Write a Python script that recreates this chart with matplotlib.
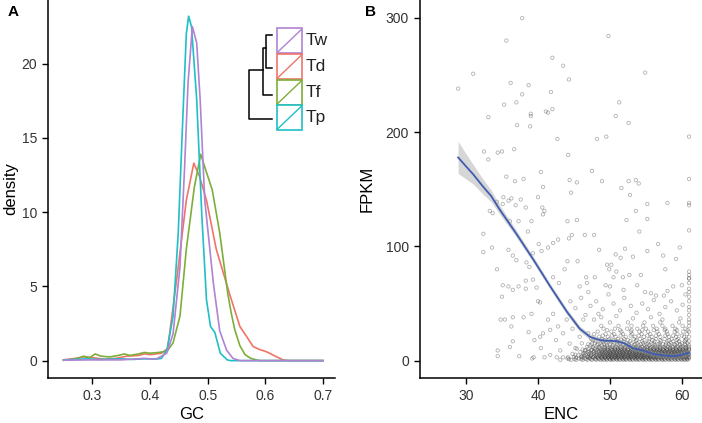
import numpy as np
import matplotlib.pyplot as plt
from matplotlib.patches import Rectangle
from matplotlib.lines import Line2D

plt.rcParams['font.family'] = ['Liberation Sans', 'DejaVu Sans']

# ---- Panel A: GC density per species ----
species = ['Tw', 'Td', 'Tf', 'Tp']
colors = {'Tw': '#B183D3', 'Td': '#F07468', 'Tf': '#7DAE3A', 'Tp': '#1FBFC6'}

gc_td = [0.25, 0.27, 0.285, 0.30, 0.32, 0.34, 0.36, 0.38, 0.39, 0.40, 0.42, 0.43, 0.434, 0.449,
         0.463, 0.476, 0.486, 0.498, 0.515, 0.538, 0.556, 0.568, 0.579, 0.590, 0.602, 0.619, 0.631, 0.64, 0.70]
dens_td = [0.05, 0.15, 0.25, 0.2, 0.1, 0.15, 0.3, 0.35, 0.45, 0.4, 0.5, 0.8, 1.8, 6.3,
           10.8, 13.3, 12.4, 10.8, 7.5, 4.5, 2.3, 1.6, 0.95, 0.75, 0.6, 0.27, 0.05, 0.0, 0.0]

gc_tf = [0.25, 0.27, 0.285, 0.295, 0.305, 0.315, 0.33, 0.345, 0.355, 0.365, 0.38, 0.39, 0.40, 0.415,
         0.43, 0.44, 0.452, 0.463, 0.477, 0.488, 0.497, 0.508, 0.521, 0.535, 0.541, 0.547, 0.556,
         0.565, 0.575, 0.59, 0.70]
dens_tf = [0.02, 0.1, 0.3, 0.2, 0.45, 0.3, 0.25, 0.35, 0.45, 0.35, 0.45, 0.55, 0.5, 0.55,
           0.65, 1.2, 3.0, 7.5, 11.7, 13.9, 12.8, 11.5, 8.6, 4.5, 3.2, 2.1, 1.0,
           0.4, 0.15, 0.0, 0.0]

gc_tp = [0.25, 0.27, 0.29, 0.31, 0.33, 0.35, 0.37, 0.39, 0.41, 0.42, 0.43, 0.44, 0.449, 0.457,
         0.463, 0.467, 0.472, 0.481, 0.490, 0.498, 0.505, 0.5125, 0.522, 0.534, 0.54, 0.70]
dens_tp = [0.05, 0.08, 0.12, 0.08, 0.1, 0.12, 0.08, 0.12, 0.1, 0.15, 0.8, 3.0, 8.6, 16.4,
           22.0, 23.2, 22.5, 17.6, 9.7, 4.1, 2.3, 1.9, 0.5, 0.05, 0.0, 0.0]

gc_tw = [0.25, 0.30, 0.35, 0.39, 0.41, 0.42, 0.429, 0.44, 0.452, 0.460, 0.466, 0.4735, 0.481,
         0.487, 0.495, 0.510, 0.521, 0.533, 0.544, 0.556, 0.70]
dens_tw = [0.03, 0.05, 0.05, 0.15, 0.1, 0.3, 0.5, 1.8, 6.3, 13.0, 18.7, 22.5, 21.4,
           17.6, 10.8, 5.2, 2.0, 0.7, 0.15, 0.0, 0.0]

curves = {'Td': (gc_td, dens_td), 'Tf': (gc_tf, dens_tf), 'Tp': (gc_tp, dens_tp), 'Tw': (gc_tw, dens_tw)}

# ---- Panel B: FPKM vs ENC ----
enc_sparse = [28.9, 31.0, 37.8, 35.6, 49.8, 54.9, 42.0, 43.5, 44.3, 36.2, 38.7, 37.8, 41.8, 35.3, 37.0,
              41.1, 42.0, 41.4, 39.0, 39.0, 51.3, 50.8, 52.6, 33.1, 37.1, 38.9, 42.7, 48.2, 49.5, 61.0,
              32.5, 33.1, 34.4, 35.0, 36.7, 44.2, 47.5, 40.4, 35.6, 40.7, 36.8, 38.0, 48.9, 45.4, 44.4,
              52.6, 53.6, 54.0, 61.0, 51.6, 44.6, 52.8, 35.2, 36.3, 37.6, 40.0, 34.3, 35.1, 36.9, 35.9,
              38.3, 40.6, 40.7, 40.9, 53.6, 55.2, 58.0, 61.0, 61.0, 33.3, 33.7, 36.1, 37.3, 39.1, 44.1,
              45.4, 52.3, 55.2, 32.4, 38.6, 54.1, 61.0, 33.6, 32.4, 44.3, 44.7, 46.5, 47.8, 42.1, 42.8,
              40.1, 41.4, 40.5, 39.3, 35.9, 36.5, 48.5, 52.1, 56.7, 59.7, 55.2, 50.8, 51.5, 53.2, 57.4,
              59.2, 34.3, 37.0, 38.4, 38.8, 43.7, 44.1, 45.5, 49.6, 50.2, 49.9, 50.9, 61.0, 57.7, 38.3,
              39.3, 42.1, 42.9, 46.7, 47.9, 50.5, 51.8, 52.7, 54.3, 35.1, 35.9, 36.5, 37.3, 61.0, 35.0,
              38.3, 39.8, 45.8, 46.8, 49.4, 50.0, 53.8, 55.7, 56.4, 57.5, 58.8, 60.0,
              34.4, 34.4, 34.8, 35.4, 36.5, 38.0, 36.3, 36.5, 36.1, 37.4, 39.1, 40.0, 40.3, 38.7, 39.5,
              39.2, 39.4, 40.3, 40.4, 40.9, 40.7, 41.7, 41.4, 42.1, 42.5, 42.8, 43.1, 43.5, 44.0, 44.2,
              44.4, 44.8, 45.2, 45.8, 46.3, 46.5, 47.0, 47.2, 47.5, 47.8, 48.4, 42.6, 43.5, 41.7,
              46.0, 47.3, 48.1, 49.0, 49.8, 50.5, 51.4, 52.0, 52.9, 53.7, 54.5, 55.3, 56.1, 56.9, 57.7,
              58.5, 59.3, 60.1, 45.2, 46.6, 48.8, 50.9, 53.2, 55.7, 57.3, 59.8, 44.5, 47.0, 51.9, 54.9,
              58.0, 60.5]
fpkm_sparse = [238, 251, 299.6, 280, 284, 252, 265, 258, 246, 243, 241, 233, 235, 224, 226,
               218, 220, 217, 216, 214, 226, 214, 208, 213, 206, 205, 194, 194, 196, 196,
               183, 176, 182, 183, 185, 180, 166, 165, 161, 152, 157, 159, 157, 156, 158,
               157, 158, 155, 159, 151, 147, 145, 143, 142, 141, 143, 139, 137, 136, 140,
               134, 134, 128, 131, 131, 137, 138, 138, 136, 131, 129, 122, 122, 122, 122,
               123, 123, 124, 111, 113, 113, 114, 99, 95, 107, 110, 110, 110, 103, 106,
               102, 99, 96, 94, 97, 92, 97, 98, 102, 99, 96, 93, 90, 91, 92,
               89, 80, 88, 86, 82, 80, 87, 87, 84, 84, 80, 78, 78, 80, 70,
               71, 73, 68, 73, 73, 73, 73, 75, 75, 66, 65, 62, 65, 72, 56,
               63, 64, 65, 68, 66, 65, 66, 59, 57, 57, 65, 66,
               9, 4, 36, 36, 38, 38, 30, 17, 12, 4, 41, 52, 51, 25, 18,
               2, 3, 21, 11, 3, 24, 27, 36, 41, 18, 30, 9, 24, 36, 3,
               15, 28, 11, 21, 36, 9, 24, 3, 15, 36, 41, 3, 3, 5,
               55, 48, 52, 45, 58, 50, 44, 55, 48, 42, 50, 45, 53, 41, 47,
               52, 44, 49, 46, 40, 38, 39, 37, 38, 36, 37, 52, 60, 62, 60,
               61, 58]

# dense band near zero: FPKM level -> ENC values
band_levels = [0.8, 2.0, 3.3, 4.6, 6.0, 7.5, 9.0, 10.5, 12.0, 13.6, 15.2, 17.0, 19.0, 21.0, 23.2,
               25.5, 28.0, 30.5, 33.5,
               1.4, 2.7, 4.0, 5.3, 6.8, 8.2, 9.8, 11.3, 14.4, 18.0, 22.0, 26.7]
band_enc = [
    [43.1, 44.6, 45.3, 46.2, 46.9, 47.5, 48.1, 48.7, 49.2, 49.6, 50.1, 50.5, 51.0, 51.4, 51.9, 52.3,
     52.8, 53.2, 53.7, 54.1, 54.6, 55.0, 55.5, 55.9, 56.4, 56.8, 57.3, 57.7, 58.2, 58.6, 59.1, 59.5,
     60.0, 60.4, 60.8],
    [44.1, 45.7, 46.5, 47.2, 47.9, 48.4, 48.9, 49.4, 49.9, 50.3, 50.8, 51.2, 51.7, 52.1, 52.6, 53.0,
     53.5, 53.9, 54.4, 54.8, 55.3, 55.7, 56.2, 56.6, 57.1, 57.5, 58.0, 58.4, 58.9, 59.3, 59.8, 60.2,
     60.7, 61.0],
    [45.0, 46.0, 46.8, 47.6, 48.2, 48.8, 49.3, 49.8, 50.2, 50.7, 51.1, 51.6, 52.0, 52.5, 52.9, 53.4,
     53.8, 54.3, 54.7, 55.2, 55.6, 56.1, 56.5, 57.0, 57.4, 57.9, 58.3, 58.8, 59.2, 59.7, 60.1, 60.6,
     61.0],
    [45.6, 46.4, 47.3, 48.0, 48.6, 49.1, 49.6, 50.0, 50.5, 50.9, 51.4, 51.8, 52.3, 52.7, 53.2, 53.6,
     54.1, 54.5, 55.0, 55.4, 55.9, 56.3, 56.8, 57.2, 57.7, 58.1, 58.6, 59.0, 59.5, 59.9, 60.4, 60.8],
    [44.8, 46.3, 47.1, 47.8, 48.5, 49.0, 49.5, 50.0, 50.4, 50.9, 51.3, 51.8, 52.2, 52.7, 53.1, 53.6,
     54.0, 54.5, 54.9, 55.4, 55.8, 56.3, 56.7, 57.2, 57.6, 58.1, 58.5, 59.0, 59.4, 59.9, 60.3, 60.8,
     61.0],
    [45.9, 46.9, 47.7, 48.3, 48.9, 49.4, 49.9, 50.4, 50.8, 51.3, 51.7, 52.2, 52.6, 53.1, 53.5, 54.0,
     54.4, 54.9, 55.3, 55.8, 56.2, 56.7, 57.1, 57.6, 58.0, 58.5, 58.9, 59.4, 59.8, 60.3, 60.7],
    [46.6, 47.4, 48.1, 48.8, 49.3, 49.8, 50.3, 50.7, 51.2, 51.6, 52.1, 52.5, 53.0, 53.4, 53.9, 54.3,
     54.8, 55.2, 55.7, 56.1, 56.6, 57.0, 57.5, 57.9, 58.4, 58.8, 59.3, 59.7, 60.2, 60.6, 61.0],
    [45.4, 47.0, 47.9, 48.6, 49.2, 49.7, 50.2, 50.7, 51.1, 51.6, 52.0, 52.5, 52.9, 53.4, 53.8, 54.3,
     54.7, 55.2, 55.6, 56.1, 56.5, 57.0, 57.4, 57.9, 58.3, 58.8, 59.2, 59.7, 60.1, 60.6, 61.0],
    [46.8, 47.6, 48.4, 49.1, 49.7, 50.3, 50.9, 51.5, 52.1, 52.7, 53.3, 53.9, 54.5, 55.1, 55.7, 56.3,
     56.9, 57.5, 58.1, 58.7, 59.3, 59.9, 60.5, 61.0],
    [47.3, 48.2, 48.9, 49.6, 50.4, 51.2, 51.9, 52.6, 53.3, 54.0, 54.8, 55.5, 56.2, 56.9, 57.7, 58.4,
     59.1, 59.8, 60.5, 61.0],
    [46.1, 47.9, 48.7, 49.5, 50.6, 51.4, 52.3, 53.0, 53.8, 54.6, 55.3, 56.1, 56.9, 57.8, 58.5, 59.3,
     60.0, 60.8],
    [48.0, 49.0, 50.1, 51.0, 51.9, 52.8, 53.6, 54.5, 55.4, 56.2, 57.1, 58.0, 58.8, 59.6, 60.4, 61.0],
    [47.4, 48.9, 49.9, 51.1, 52.0, 53.3, 54.2, 55.5, 56.4, 57.6, 58.6, 59.5, 60.6],
    [48.5, 49.7, 50.8, 52.2, 53.5, 54.7, 55.8, 57.0, 58.2, 59.2, 60.3, 61.0],
    [47.8, 49.4, 50.6, 51.8, 53.1, 54.4, 55.6, 56.8, 58.0, 59.4, 60.7],
    [48.3, 50.2, 51.6, 52.9, 54.1, 55.3, 56.6, 57.9, 59.0, 60.2, 61.0],
    [49.1, 50.7, 52.4, 53.8, 55.0, 56.5, 57.7, 59.1, 60.5],
    [48.8, 51.2, 53.0, 54.6, 56.0, 57.3, 58.7, 60.1, 61.0],
    [50.0, 52.5, 54.8, 57.0, 59.6, 61.0],
    [44.3, 45.1, 46.0, 46.7, 47.4, 48.0, 48.5, 49.0, 49.5, 50.0, 50.4, 50.9, 51.3, 51.8, 52.2, 52.7,
     53.1, 53.6, 54.0, 54.5, 54.9, 55.4, 55.8, 56.3, 56.7, 57.2, 57.6, 58.1, 58.5, 59.0, 59.4, 59.9,
     60.3, 60.7],
    [45.3, 46.2, 47.0, 47.7, 48.3, 48.8, 49.3, 49.7, 50.2, 50.6, 51.0, 51.5, 51.9, 52.4, 52.8, 53.3,
     53.7, 54.2, 54.6, 55.1, 55.5, 56.0, 56.4, 56.9, 57.3, 57.8, 58.2, 58.7, 59.1, 59.6, 60.0, 60.5,
     60.9],
    [46.1, 47.0, 47.8, 48.4, 48.9, 49.4, 49.9, 50.3, 50.8, 51.2, 51.7, 52.1, 52.6, 53.0, 53.5, 53.9,
     54.4, 54.8, 55.3, 55.7, 56.2, 56.6, 57.1, 57.5, 58.0, 58.4, 58.9, 59.3, 59.8, 60.2, 60.7],
    [45.2, 46.6, 47.4, 48.2, 48.8, 49.3, 49.8, 50.2, 50.7, 51.1, 51.6, 52.0, 52.5, 52.9, 53.4, 53.8,
     54.3, 54.7, 55.2, 55.6, 56.1, 56.5, 57.0, 57.4, 57.9, 58.3, 58.8, 59.2, 59.7, 60.1, 60.6, 61.0],
    [46.5, 47.3, 48.0, 48.7, 49.2, 49.7, 50.1, 50.6, 51.0, 51.5, 51.9, 52.4, 52.8, 53.3, 53.7, 54.2,
     54.6, 55.1, 55.5, 56.0, 56.4, 56.9, 57.3, 57.8, 58.2, 58.7, 59.1, 59.6, 60.0, 60.5, 60.9],
    [47.1, 47.8, 48.5, 49.0, 49.6, 50.1, 50.5, 51.0, 51.4, 51.9, 52.3, 52.8, 53.2, 53.7, 54.1, 54.6,
     55.0, 55.5, 55.9, 56.4, 56.8, 57.3, 57.7, 58.2, 58.6, 59.1, 59.5, 60.0, 60.4, 60.8],
    [46.2, 47.5, 48.3, 49.0, 49.6, 50.2, 50.8, 51.4, 52.0, 52.6, 53.2, 53.8, 54.4, 55.0, 55.6, 56.2,
     56.8, 57.4, 58.0, 58.6, 59.2, 59.8, 60.4, 61.0],
    [47.7, 48.5, 49.3, 50.0, 50.7, 51.4, 52.1, 52.8, 53.5, 54.2, 54.9, 55.6, 56.3, 57.0, 57.7, 58.4,
     59.1, 59.8, 60.5],
    [47.0, 48.4, 49.2, 50.0, 51.0, 51.8, 52.6, 53.5, 54.3, 55.1, 55.9, 56.7, 57.4, 58.2, 59.0, 59.7,
     60.4],
    [47.6, 49.3, 50.5, 51.6, 52.5, 53.7, 54.8, 55.9, 57.0, 58.2, 59.3, 60.5],
    [49.0, 50.3, 51.5, 52.9, 54.0, 55.2, 56.4, 57.7, 58.8, 60.0],
    [49.6, 51.4, 53.0, 54.5, 56.1, 57.6, 59.3, 60.8],
]
edge_fpkm = [36, 40, 44, 47, 52, 56, 60, 63, 68, 72, 75]

# loess fit and its confidence band
fit_enc = [28.9, 30.0, 31.0, 32.4, 33.5, 34.7, 37.0, 39.4, 41.7, 44.0, 45.8, 47.2, 48.6, 49.5, 50.9,
           52.1, 53.2, 54.6, 56.0, 57.4, 58.8, 59.7, 60.6, 61.0]
fit_fpkm = [177.8, 170, 163, 152, 144, 132, 111, 88, 65, 43, 28, 21, 18, 17.5, 17.2,
            15, 11, 9, 6, 4.7, 4, 4.7, 6.4, 7]
fit_se = [14, 11, 8.5, 6.5, 5, 4, 3, 2.6, 2.5, 2.5, 2.5, 2.5, 2.5, 2.5, 2.5,
          2.5, 2.5, 2.5, 2.5, 2.5, 2.6, 2.8, 3.2, 3.5]

enc_all = list(enc_sparse)
fpkm_all = list(fpkm_sparse)
for level, row in zip(band_levels, band_enc):
    enc_all += row
    fpkm_all += [level] * len(row)
enc_all += [61.0] * len(edge_fpkm)
fpkm_all += edge_fpkm

fig = plt.figure(figsize=(7.02, 4.23), dpi=100)
axA = fig.add_axes([48 / 702, 45 / 423, 287 / 702, 378 / 423])
axB = fig.add_axes([420 / 702, 45 / 423, 282 / 702, 378 / 423])

tick_color = '#333333'
for ax in (axA, axB):
    for s in ('top', 'right'):
        ax.spines[s].set_visible(False)
    for s in ('left', 'bottom'):
        ax.spines[s].set_linewidth(1.1)
        ax.spines[s].set_color('black')
    ax.tick_params(length=4, width=1.0, color='black', labelsize=10, labelcolor=tick_color, pad=4)

for name in ['Td', 'Tf', 'Tp', 'Tw']:
    x, y = curves[name]
    axA.plot(x, y, color=colors[name], lw=1.2)
axA.set_xlim(0.223, 0.721)
axA.set_ylim(-1.17, 24.29)
axA.set_xticks([0.3, 0.4, 0.5, 0.6, 0.7])
axA.set_xticklabels(['0.3', '0.4', '0.5', '0.6', '0.7'])
axA.set_yticks([0, 5, 10, 15, 20])
axA.set_xlabel('GC', fontsize=12, labelpad=3)
axA.set_ylabel('density', fontsize=12, labelpad=2)

# legend boxes with dendrogram
box_top = [0.925, 0.857, 0.789, 0.722]
for name, top in zip(species, box_top):
    h = 0.066
    axA.add_patch(Rectangle((0.798, top - h), 0.087, h, transform=axA.transAxes,
                            facecolor='white', edgecolor=colors[name], lw=1.2, clip_on=False))
    axA.add_line(Line2D([0.800, 0.883], [top - h + 0.003, top - 0.003], transform=axA.transAxes,
                        color=colors[name], lw=1.0))
    axA.text(0.898, top - h / 2, name, transform=axA.transAxes, fontsize=12.5,
             va='center', ha='left', color='#222222')

dendro = [
    ([0.780, 0.760, 0.760, 0.780], [0.907, 0.907, 0.820, 0.820]),
    ([0.760, 0.750, 0.750, 0.780], [0.873, 0.873, 0.749, 0.749]),
    ([0.750, 0.701, 0.701, 0.780], [0.815, 0.815, 0.684, 0.684]),
]
for xs, ys in dendro:
    axA.add_line(Line2D(xs, ys, transform=axA.transAxes, color='black', lw=1.1))

axB.scatter(enc_all, fpkm_all, s=6, facecolors='none', edgecolors='#303030', linewidths=0.55, alpha=0.4)
lo = np.array(fit_fpkm) - np.array(fit_se)
hi = np.array(fit_fpkm) + np.array(fit_se)
axB.fill_between(fit_enc, lo, hi, color='#999999', alpha=0.4, lw=0)
axB.plot(fit_enc, fit_fpkm, color='#3F5DB0', lw=1.3)
axB.set_xlim(23.6, 62.8)
axB.set_ylim(-15.1, 315.5)
axB.set_xticks([30, 40, 50, 60])
axB.set_yticks([0, 100, 200, 300])
axB.set_xlabel('ENC', fontsize=12, labelpad=3)
axB.set_ylabel('FPKM', fontsize=12, labelpad=8)

fig.text(8 / 702, 1 - 12 / 423, 'A', fontsize=11, fontweight='bold', va='center')
fig.text(365 / 702, 1 - 12 / 423, 'B', fontsize=11, fontweight='bold', va='center')

fig.savefig('out.png', dpi=100)
